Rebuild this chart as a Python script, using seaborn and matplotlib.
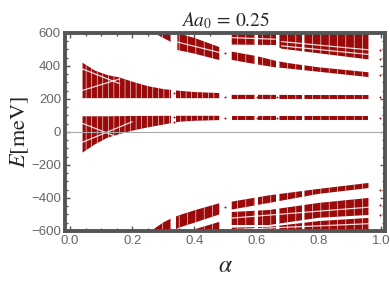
import numpy as np
import pandas as pd
import matplotlib
matplotlib.use("Agg")
import matplotlib.pyplot as plt
import seaborn as sns
from matplotlib.ticker import MultipleLocator

# band edges (alpha anchors, energies in meV)
a_left = [0.04, 0.08, 0.12, 0.16, 0.20, 0.25, 0.30, 0.35, 0.40, 0.48]
zero_low = [-125, -75, -35, -12, 8, 28, 45, 62, 68, 72]
zero_high = [95, 95, 95, 96, 97, 97, 98, 98, 98, 98]
mid_low = [205, 205, 205, 205, 205, 205, 205, 205, 205, 205]
mid_high = [420, 372, 345, 330, 305, 278, 260, 250, 242, 236]

a_right = [0.52, 0.64, 0.80, 0.96]
zero_low_r = [75, 75, 75, 75]
zero_high_r = [98, 98, 98, 98]
mid_low_r = [200, 200, 200, 200]
mid_high_r = [225, 225, 224, 224]

a_top1 = [0.27, 0.30, 0.325]
top1_low = [600, 570, 545]
a_top2 = [0.345, 0.40, 0.48]
top2_low = [497, 475, 436]
top2_high = [600, 570, 515]
a_desc = [0.52, 0.60, 0.66, 0.70, 0.80, 0.96]
desc_low = [437, 410, 392, 385, 365, 333]
desc_high = [487, 460, 432, 418, 392, 362]
a_cap = [0.52, 0.66, 0.68, 0.96]
cap_low = [530, 527, 505, 440]

a_bot1 = [0.26, 0.30, 0.33, 0.35, 0.40, 0.48]
bot1_high = [-600, -548, -520, -505, -475, -432]
bot1_low = [-600, -600, -600, -580, -550, -500]
a_bot2 = [0.40, 0.48]
bot2_high = [-590, -545]
bot_low_r1 = [-470, -430, -375, -340]
bot_high_r1 = [-422, -384, -345, -309]
bot_low_r2 = [-564, -564, -520, -503]
bot_high_r2 = [-485, -473, -430, -400]
bot_high_r3 = [-580, -575, -540, -521]

# thin white gaps running inside the bands (start/end alpha, start/end E)
gap_lines = [
    ([0.68, 0.96], [548, 498]),
    ([0.68, 0.96], [522, 470]),
    ([0.52, 0.66], [572, 562]),
    ([0.345, 0.48], [545, 482]),
    ([0.52, 0.96], [-522, -456]),
    ([0.52, 0.96], [-592, -556]),
    ([0.04, 0.20], [-62, 62]),
    ([0.04, 0.14], [52, -22]),
    ([0.04, 0.16], [382, 292]),
    ([0.04, 0.16], [252, 322]),
]

gaps = [(0.325, 0.342), (0.485, 0.515), (0.596, 0.604), (0.662, 0.672), (0.745, 0.752)]

dot_alpha = [0.334, 0.334, 0.334, 0.5, 0.5, 0.5, 0.5, 0.6, 0.6, 0.667, 0.667,
             0.997, 0.997, 0.997, 0.997, 0.997, 0.997, 0.997, 0.997]
dot_E = [236, 88, 60, 478, 212, 85, -455, 212, 85, 212, 85,
         497, 442, 345, 212, 85, -351, -442, -503]

red = "#9a0a0a"
grey = "#555555"

sns.set_style("ticks")
plt.rcParams["font.family"] = ["Liberation Sans", "DejaVu Sans"]
plt.rcParams["mathtext.fontset"] = "stix"
plt.rcParams["hatch.linewidth"] = 0.4

fig = plt.figure(figsize=(3.9, 2.82), dpi=100)
ax = fig.add_axes([0.167, 0.181, 0.820, 0.702])


def band(x, lo, hi, hatch="||"):
    ax.fill_between(x, lo, hi, facecolor=red, edgecolor="white", hatch=hatch,
                    linewidth=0, zorder=2)


band(a_left, zero_low, zero_high, "|||")
band(a_left, mid_low, mid_high, "|||")
band(a_right, zero_low_r, zero_high_r)
band(a_right, mid_low_r, mid_high_r)
band(a_top1, top1_low, [600] * len(a_top1))
band(a_top2, top2_low, top2_high)
band(a_desc, desc_low, desc_high)
band(a_cap, cap_low, [600] * len(a_cap))
band(a_bot1, bot1_low, bot1_high)
band(a_bot2, [-600] * len(a_bot2), bot2_high)
band(a_right, bot_low_r1, bot_high_r1)
band(a_right, bot_low_r2, bot_high_r2)
band(a_right, [-600] * len(a_right), bot_high_r3)

for xs, ys in gap_lines:
    ax.plot(xs, ys, color="white", lw=0.9, alpha=0.85, zorder=2.5)

for g0, g1 in gaps:
    ax.axvspan(g0, g1, color="white", lw=0, zorder=3)

dots = pd.DataFrame({"alpha": dot_alpha, "E": dot_E})
sns.scatterplot(data=dots, x="alpha", y="E", color=red, s=2, linewidth=0,
                ax=ax, zorder=4)

ax.axhline(0, color="#aaaaaa", lw=0.8, zorder=5)

ax.set_xlim(-0.016, 1.013)
ax.set_ylim(-600, 600)
ax.xaxis.set_major_locator(MultipleLocator(0.2))
ax.xaxis.set_minor_locator(MultipleLocator(0.05))
ax.yaxis.set_major_locator(MultipleLocator(200))
ax.yaxis.set_minor_locator(MultipleLocator(50))
ax.set_xticklabels(["%.1f" % t for t in ax.get_xticks()])
ax.set_yticklabels(["%d" % t if t >= 0 else "\u2212%d" % -t for t in ax.get_yticks()])
ax.tick_params(which="both", direction="in", top=True, right=True,
               color=grey, labelcolor="#666666", labelsize=9.5, width=1)
ax.tick_params(which="major", length=3.5, pad=3)
ax.tick_params(which="minor", length=2)
for s in ax.spines.values():
    s.set_color(grey)
    s.set_linewidth(2.8)
    s.set_zorder(6)

ax.set_title(r"$Aa_0\,=\,0.25$", fontsize=14, pad=5)
ax.set_xlabel(r"$\alpha$", fontsize=17, labelpad=6)
ax.set_ylabel(r"$E[\mathrm{meV}]$", fontsize=16, labelpad=0)

fig.savefig("out.png", dpi=100)
